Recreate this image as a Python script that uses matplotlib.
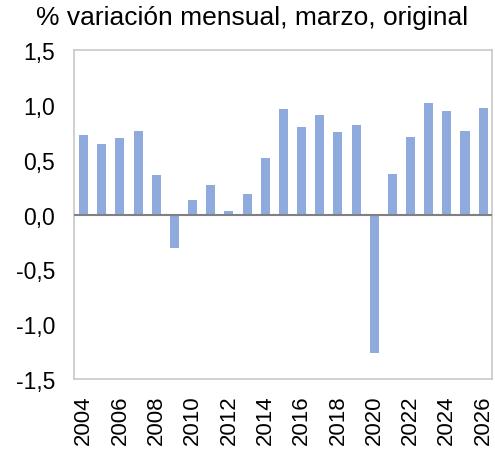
import matplotlib.pyplot as plt
import numpy as np

plt.rcParams['font.family'] = ['Liberation Sans', 'DejaVu Sans']

years = list(range(2004, 2027))
values = [0.73, 0.64, 0.70, 0.76, 0.36, -0.30, 0.13, 0.27, 0.03, 0.19,
          0.52, 0.96, 0.80, 0.91, 0.75, 0.82, -1.26, 0.37, 0.71, 1.02,
          0.94, 0.76, 0.97]
yticks = [-1.5, -1.0, -0.5, 0.0, 0.5, 1.0, 1.5]

fig = plt.figure(figsize=(4.95, 4.52), dpi=100)
ax = fig.add_axes([0.1505, 0.159, 0.844, 0.728])

x = np.arange(len(years))
ax.bar(x, values, width=0.5, color='#8FAADC', zorder=2)
ax.axhline(0, color='#808080', lw=1.5, zorder=3)

ax.set_xlim(-0.5, len(years) - 0.5)
ax.set_ylim(-1.5, 1.5)
ax.set_yticks(yticks)
ax.set_yticklabels([f'{v:.1f}'.replace('.', ',') for v in yticks], fontsize=16.5)
ax.set_xticks(x[::2])
ax.set_xticklabels([str(y) for y in years[::2]], rotation=90, fontsize=16)
ax.tick_params(axis='y', length=0, pad=14)
ax.tick_params(axis='x', length=0, pad=11)

for s in ax.spines.values():
    s.set_color('#C8C8C8')
    s.set_linewidth(1.2)

fig.text(0.51, 0.96, '% variación mensual, marzo, original', ha='center', va='center', fontsize=19)

fig.savefig('out.png', dpi=100)
